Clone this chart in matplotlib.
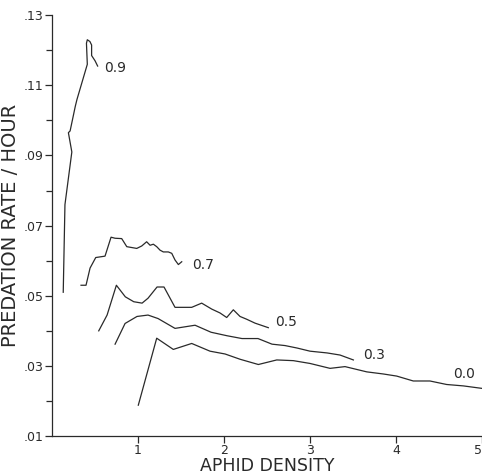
import numpy as np
import matplotlib
matplotlib.use("Agg")
from matplotlib import pyplot as plt
from matplotlib.ticker import MultipleLocator

# predation rate per hour vs aphid density, one trace per level
x_09 = [0.13, 0.15, 0.23, 0.19, 0.21, 0.27, 0.29, 0.41, 0.40, 0.41, 0.44, 0.46, 0.46, 0.50, 0.53]
y_09 = [0.051, 0.076, 0.091, 0.0965, 0.097, 0.104, 0.106, 0.116, 0.122, 0.123, 0.1225, 0.1215, 0.1185, 0.117, 0.1155]

x_07 = [0.337, 0.395, 0.442, 0.508, 0.616, 0.686, 0.733, 0.81, 0.869, 0.985, 1.043, 1.10, 1.14,
        1.178, 1.217, 1.256, 1.294, 1.352, 1.392, 1.43, 1.469, 1.508]
y_07 = [0.053, 0.053, 0.0579, 0.0609, 0.0613, 0.0667, 0.0664, 0.0663, 0.064, 0.0635, 0.0642, 0.0654, 0.0644,
        0.0647, 0.064, 0.063, 0.0625, 0.0625, 0.0621, 0.0602, 0.0589, 0.0597]

x_05 = [0.543, 0.64, 0.748, 0.852, 0.95, 1.047, 1.116, 1.221, 1.302, 1.43, 1.624, 1.74, 1.857, 1.953,
        2.031, 2.108, 2.186, 2.264, 2.36, 2.515]
y_05 = [0.040, 0.0445, 0.053, 0.0497, 0.0483, 0.0479, 0.0493, 0.0525, 0.0525, 0.0467, 0.0467, 0.0479, 0.0462, 0.0451,
        0.0438, 0.046, 0.0441, 0.0433, 0.0422, 0.0409]

x_03 = [0.733, 0.849, 0.988, 1.116, 1.233, 1.43, 1.663, 1.849, 2.035, 2.209, 2.395, 2.558, 2.709, 2.849,
        3.0, 3.198, 3.349, 3.504]
y_03 = [0.0362, 0.0421, 0.0441, 0.0445, 0.0435, 0.0407, 0.0416, 0.0396, 0.0386, 0.0378, 0.0378, 0.0362, 0.0358, 0.0351,
        0.0342, 0.0337, 0.0331, 0.0317]

x_00 = [1.003, 1.217, 1.41, 1.624, 1.837, 2.012, 2.186, 2.399, 2.613, 2.806, 3.0, 3.233, 3.407, 3.66,
        3.852, 4.008, 4.201, 4.395, 4.589, 4.783, 4.997]
y_00 = [0.0188, 0.0379, 0.0347, 0.0364, 0.0342, 0.0334, 0.0319, 0.0304, 0.0317, 0.0315, 0.0307, 0.0293, 0.0298, 0.0283,
        0.0277, 0.0271, 0.0257, 0.0257, 0.0247, 0.0243, 0.0236]

curve_names = ["0.9", "0.7", "0.5", "0.3", "0.0"]
label_x = [0.60, 1.63, 2.59, 3.62, 4.67]
label_y = [0.115, 0.0587, 0.0426, 0.0331, 0.0277]

yticks = [0.01, 0.03, 0.05, 0.07, 0.09, 0.11, 0.13]
ytick_labels = [".01", ".03", ".05", ".07", ".09", ".11", ".13"]
xticks = [1, 2, 3, 4, 5]
xtick_labels = ["1", "2", "3", "4", "5"]

ink = "#2a2a2a"

fig = plt.figure(figsize=(4.82, 4.75), dpi=100)
ax = fig.add_axes([0.108, 0.082, 0.892, 0.886])

curves = [(x_09, y_09), (x_07, y_07), (x_05, y_05), (x_03, y_03), (x_00, y_00)]
for (xs, ys), name, lx, ly in zip(curves, curve_names, label_x, label_y):
    ax.plot(xs, ys, color=ink, lw=0.9, clip_on=False)
    ax.text(lx, ly, name, fontsize=10, color=ink, ha="left", va="center", clip_on=False)

ax.set_xlim(0, 5)
ax.set_ylim(0.01, 0.13)
ax.set_xticks(xticks)
ax.set_xticklabels(xtick_labels)
ax.set_yticks(yticks)
ax.set_yticklabels(ytick_labels)
ax.yaxis.set_minor_locator(MultipleLocator(0.01))

# last x label sits on the figure edge, keep it inside
ax.get_xticklabels()[-1].set_ha("right")

for side in ["top", "right"]:
    ax.spines[side].set_visible(False)
for side in ["left", "bottom"]:
    ax.spines[side].set_color(ink)
    ax.spines[side].set_linewidth(0.9)

ax.tick_params(axis="both", which="both", direction="out", color=ink, width=0.9, labelcolor=ink, labelsize=9)
ax.tick_params(axis="both", which="major", length=5, pad=1)
ax.tick_params(axis="y", which="minor", length=4)

ax.set_ylabel("PREDATION RATE / HOUR", fontsize=14, color=ink, labelpad=3)
ax.set_xlabel("APHID DENSITY", fontsize=12.5, color=ink, labelpad=0)

fig.savefig("out.png", dpi=100)
